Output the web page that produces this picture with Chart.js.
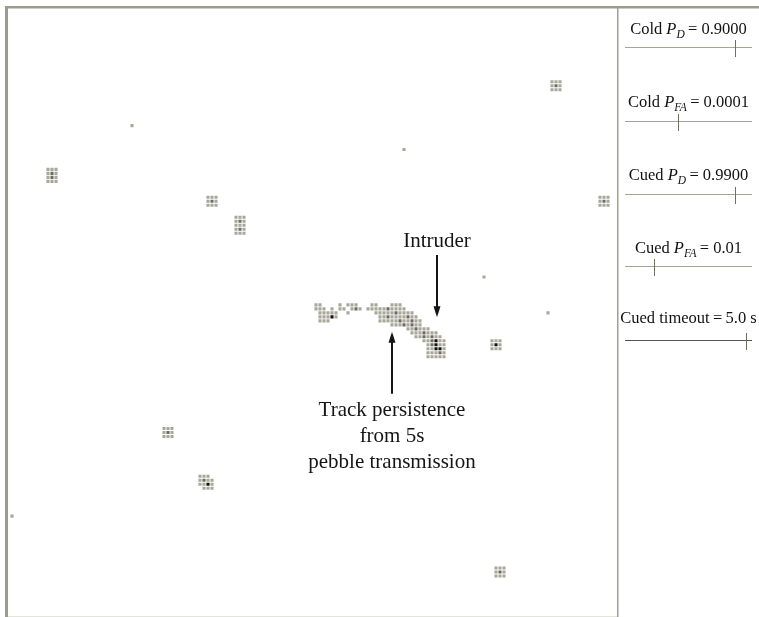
<!DOCTYPE html>
<html>
<head>
<meta charset="utf-8">
<script src="https://cdn.jsdelivr.net/npm/chart.js@4.4.0/dist/chart.umd.min.js"></script>
<style>
  html, body { margin: 0; padding: 0; background: #fff; }
  #wrap { position: relative; width: 759px; height: 617px; overflow: hidden; }
  #grafico { position: absolute; left: 0; top: 0; }
  .etiqueta {
    position: absolute; left: 618px; width: 141px; text-align: center;
    font: 16.5px "Liberation Serif", serif; color: #111; line-height: 20px; white-space: nowrap;
  }
  .etiqueta sub { font-size: 11.5px; vertical-align: -4px; line-height: 0; }
  .pista { position: absolute; left: 625px; width: 127px; height: 1px; background: #a5a596; }
  .cursor { position: absolute; width: 1px; height: 17px; background: #6f6f63; }
</style>
</head>
<body>
<div id="wrap">
  <canvas id="grafico" width="759" height="617"></canvas>
</div>
<script>
// ===============================
// DATOS DEL MAPA (celdas de la rejilla)
// ===============================
// g = gris claro, d = gris oscuro, k = negro, . = vacío
const grupoColumnas = [135, 30, 98, 9, 49, 56, 147, 118, 134, 120, 38, 47, 0, 121];
const grupoFilas = [18, 29, 35, 40, 47, 52, 47, 67, 76, 83, 105, 117, 127, 140];
const grupoMascaras = [
  ["ggg", "gdg", "ggg"],
  ["g"],
  ["g"],
  ["ggg", "gdg", "gdg", "ggg"],
  ["ggg", "gdg", "ggg"],
  ["ggg", "gdg", "ggg", "gdg", "ggg"],
  ["ggg", "gdg", "ggg"],
  ["g"],
  ["g"],
  ["ggg", "gkg", "ggg"],
  ["ggg", "gdg", "ggg"],
  ["ggg.", "gdgg", "ggkg", ".ggg"],
  ["g"],
  ["ggg", "gdg", "ggg"]
];

// traza persistente + intruso (empieza en columna 75, fila 74)
const trazaColumna = 75;
const trazaFila = 74;
const trazaMascara = [
  ".gg....g.ggg...gg...ggg...........",
  ".ggg.g.gg.gdg.gggggdgggg..........",
  "..ggggg..g......gggggdgggg........",
  "..gggkg..........ggdggggdgg.......",
  "..ggg............gggggdggdgg......",
  "....................gggdgdgg......",
  "........................ggdggg....",
  ".........................gggdggg..",
  "..........................ggdgdgg.",
  "............................ggdkgg",
  ".............................gdkgg",
  ".............................ggkkg",
  ".............................gggdg",
  ".............................ggggg"
];

// controles de la derecha
const controlNombres = ["Cold", "Cold", "Cued", "Cued", "Cued timeout"];
const controlSubindices = ["D", "FA", "D", "FA", ""];
const controlValores = ["0.9000", "0.0001", "0.9900", "0.01", "5.0 s"];

// ===============================
// CELDAS → PUNTOS
// ===============================
const celdasGris = [];
const celdasOscuras = [];
const celdasNegras = [];

function agregarMascara(col0, fila0, mascara) {
  mascara.forEach((linea, i) => {
    [...linea].forEach((c, j) => {
      const p = { x: col0 + j + 0.5, y: fila0 + i + 0.5 };
      if (c === "g") celdasGris.push(p);
      if (c === "d") celdasOscuras.push(p);
      if (c === "k") celdasNegras.push(p);
    });
  });
}

grupoMascaras.forEach((m, i) => agregarMascara(grupoColumnas[i], grupoFilas[i], m));
agregarMascara(trazaColumna, trazaFila, trazaMascara);

// ===============================
// PLUGINS: marco y anotaciones
// ===============================
const marco = {
  id: "marco",
  beforeDraw(chart) {
    const c = chart.ctx;
    c.save();
    c.fillStyle = "#9c9c8a";
    c.fillRect(5, 6, 3, 611);
    c.fillRect(5, 6, 754, 2.5);
    c.fillStyle = "#a0a092";
    c.fillRect(617, 8, 1.5, 609);
    c.fillStyle = "#e4e4de";
    c.fillRect(8, 616, 609, 1);
    c.restore();
  }
};

function flecha(c, x, y1, y2) {
  const dir = y2 > y1 ? 1 : -1;
  c.beginPath();
  c.moveTo(x, y1);
  c.lineTo(x, y2 - dir * 8);
  c.stroke();
  c.beginPath();
  c.moveTo(x, y2);
  c.lineTo(x - 3.5, y2 - dir * 11);
  c.lineTo(x + 3.5, y2 - dir * 11);
  c.closePath();
  c.fill();
}

const anotaciones = {
  id: "anotaciones",
  afterDatasetsDraw(chart) {
    const c = chart.ctx;
    const sx = chart.scales.x;
    const sy = chart.scales.y;
    c.save();
    c.fillStyle = "#151515";
    c.strokeStyle = "#151515";
    c.lineWidth = 2;
    c.font = '21px "Liberation Serif", serif';
    c.textAlign = "center";
    c.textBaseline = "middle";

    // Intruso
    c.fillText("Intruder", sx.getPixelForValue(106.75), sy.getPixelForValue(58.5));
    flecha(c, sx.getPixelForValue(106.75), sy.getPixelForValue(62), sy.getPixelForValue(77.6));

    // Persistencia de la traza
    const xt = sx.getPixelForValue(95.5);
    c.fillText("Track persistence", xt, sy.getPixelForValue(101));
    c.fillText("from 5s", xt, sy.getPixelForValue(107.5));
    c.fillText("pebble transmission", xt, sy.getPixelForValue(114));
    flecha(c, xt, sy.getPixelForValue(96.8), sy.getPixelForValue(81.2));
    c.restore();
  }
};

// ===============================
// GRÁFICA
// ===============================
const ctx = document.getElementById("grafico");

const chart = new Chart(ctx, {
  type: "scatter",
  data: {
    datasets: [
      { data: celdasGris, backgroundColor: "#a8a89a" },
      { data: celdasOscuras, backgroundColor: "#6c6c62" },
      { data: celdasNegras, backgroundColor: "#121212" }
    ]
  },
  options: {
    responsive: false,
    animation: false,
    events: [],
    layout: { padding: { left: 10, top: 8, right: 142, bottom: 0 } },
    elements: {
      point: { pointStyle: "rect", radius: 2.2, hoverRadius: 2.2, borderWidth: 0 }
    },
    scales: {
      x: { type: "linear", display: false, min: 0, max: 151.75 },
      y: { type: "linear", display: false, min: 0, max: 152.25, reverse: true }
    },
    plugins: {
      legend: { display: false },
      tooltip: { enabled: false }
    }
  },
  plugins: [marco, anotaciones]
});

// ===============================
// CONTROLES (deslizadores)
// ===============================
const wrap = document.getElementById("wrap");
const etiquetaY = [19, 92, 165, 238, 308];
const pistaY = [47, 121, 194, 266, 340];
const cursorX = [735, 678, 735, 654, 746];

controlNombres.forEach((nombre, i) => {
  const et = document.createElement("div");
  et.className = "etiqueta";
  et.style.top = etiquetaY[i] + "px";
  if (controlSubindices[i]) {
    et.innerHTML = `${nombre} <i>P</i><sub><i>${controlSubindices[i]}</i></sub>\u2009= ${controlValores[i]}`;
  } else {
    et.innerHTML = `${nombre}\u2009=\u2009${controlValores[i]}`;
  }
  wrap.appendChild(et);

  const pista = document.createElement("div");
  pista.className = "pista";
  pista.style.top = pistaY[i] + "px";
  if (i === 4) pista.style.background = "#55554b";
  wrap.appendChild(pista);

  const cur = document.createElement("div");
  cur.className = "cursor";
  cur.style.left = cursorX[i] + "px";
  cur.style.top = (pistaY[i] - 7) + "px";
  wrap.appendChild(cur);
});
</script>
</body>
</html>
